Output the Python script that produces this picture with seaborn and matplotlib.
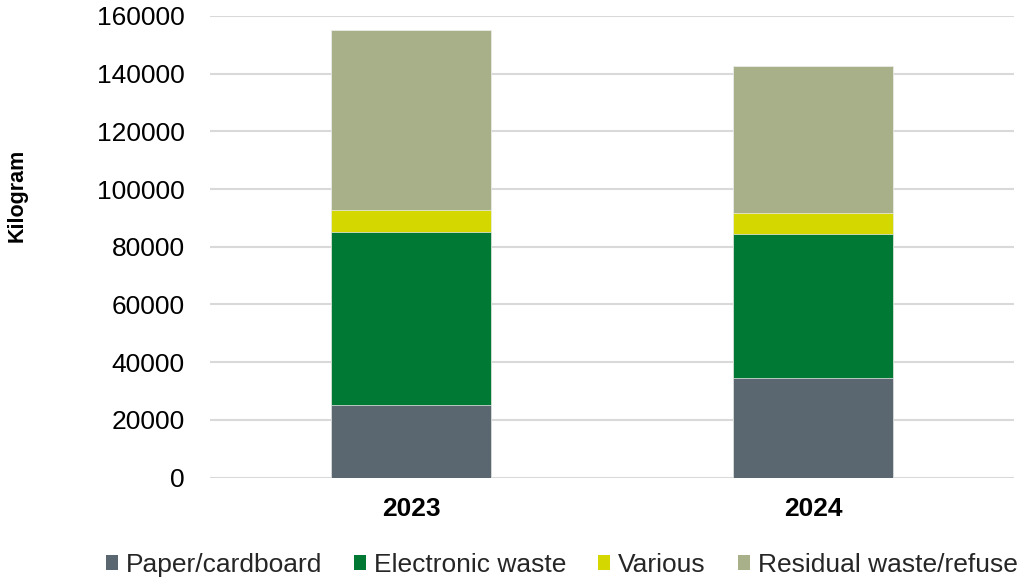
import matplotlib
matplotlib.use("Agg")
import matplotlib.pyplot as plt
import seaborn as sns
import numpy as np
import pandas as pd
from matplotlib.patches import Patch

years = ["2023", "2024"]
series_names = ["Paper/cardboard", "Electronic waste", "Various", "Residual waste/refuse"]
paper = [25000, 34500]
electronic = [60000, 49900]
various = [7800, 7300]
residual = [62400, 51000]
colors = ["#5A6770", "#007934", "#D4D800", "#A8B08A"]

sns.set_theme(style="white")
plt.rcParams['font.family'] = ['Liberation Sans', 'DejaVu Sans']

fig = plt.figure(figsize=(10.25, 5.78), dpi=100)
ax = fig.add_axes([210/1025, 1-477.5/578, (1014-210)/1025, (477.5-16)/578])

layers = [paper, electronic, various, residual]
cum = np.cumsum(np.array(layers), axis=0)
for i in range(len(layers)-1, -1, -1):
    df = pd.DataFrame({"year": years, "value": cum[i]})
    sns.barplot(data=df, x="year", y="value", color=colors[i], width=0.4,
                saturation=1, ax=ax, edgecolor="#EEEEEE", linewidth=0.5, zorder=3)

ax.set_ylim(0, 160000)
ax.set_xlim(-0.5, 1.5)
ax.set_yticks(np.arange(0, 160001, 20000))
ax.set_yticklabels([str(v) for v in range(0, 160001, 20000)])
ax.yaxis.grid(True, color="#D9D9D9", linewidth=1.5, zorder=0)
ax.set_axisbelow(True)
for s in ax.spines.values():
    s.set_visible(False)
ax.tick_params(axis="y", length=0, pad=18, labelsize=19, labelcolor="black")
ax.tick_params(axis="x", length=0, pad=14, labelsize=19, labelcolor="black")
for lab in ax.get_xticklabels():
    lab.set_fontweight("bold")
ax.set_xlabel("")
ax.set_ylabel("")
fig.text(17/1025, 1-195/578, "Kilogram", rotation=90, fontsize=15.5,
         fontweight="bold", ha="center", va="center", color="black")

handles = [Patch(facecolor=c, edgecolor="none") for c in colors]
fig.legend(handles, series_names, loc="center left",
           bbox_to_anchor=(106/1025, 1-565/578), ncol=4, frameon=False,
           fontsize=19, handlelength=0.46, handleheight=0.46,
           handletextpad=0.3, columnspacing=1.2, borderpad=0, borderaxespad=0)

fig.savefig("out.png", dpi=100)
